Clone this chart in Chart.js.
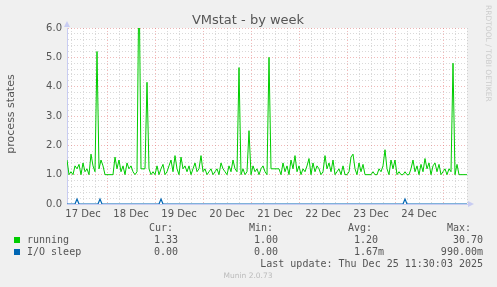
<!DOCTYPE html>
<html>
<head>
<meta charset="utf-8">
<script src="https://cdn.jsdelivr.net/npm/chart.js@4"></script>
<style>
  html, body { margin: 0; padding: 0; background: #f0f0f0; }
  canvas { display: block; }
</style>
</head>
<body>
<canvas id="vmstat" width="497" height="287"></canvas>
<script>
// hour 0 = Tue 17 Dec 04:00, one value per hour up to 25 Dec 12:00
const running = [
  1.5, 1.0, 1.1, 1.0, 1.3, 1.2, 1.35, 1.0, 1.4, 1.1,
  1.2, 1.0, 1.7, 1.3, 1.1, 5.2, 1.2, 1.5, 1.3, 1.0,
  1.0, 1.0, 1.0, 1.0, 1.6, 1.2, 1.5, 1.1, 1.3, 1.0,
  1.4, 1.2, 1.3, 1.1, 1.0, 1.1, 8.0, 1.2, 1.2, 1.2,
  4.15, 1.2, 1.0, 1.1, 1.0, 1.3, 1.0, 1.2, 1.35, 1.0,
  1.1, 1.3, 1.5, 1.1, 1.65, 1.2, 1.0, 1.6, 1.2, 1.3,
  1.1, 1.3, 1.0, 1.2, 1.4, 1.1, 1.2, 1.65, 1.1, 1.2,
  1.0, 1.1, 1.2, 1.0, 1.1, 1.2, 1.0, 1.4, 1.2, 1.1,
  1.0, 1.3, 1.1, 1.5, 1.2, 1.1, 4.65, 1.0, 1.2, 1.0,
  1.1, 2.5, 1.0, 1.3, 1.1, 1.2, 1.0, 1.2, 1.3, 1.1,
  1.0, 5.0, 1.2, 1.2, 1.2, 1.2, 1.2, 1.0, 1.4, 1.1,
  1.3, 1.0, 1.5, 1.2, 1.65, 1.1, 1.3, 1.0, 1.2, 1.1,
  1.3, 1.55, 1.0, 1.4, 1.1, 1.3, 1.2, 1.0, 1.1, 1.65,
  1.2, 1.4, 1.1, 1.5, 1.0, 1.1, 1.2, 1.0, 1.3, 1.0,
  1.0, 1.1, 1.6, 1.7, 1.2, 1.0, 1.4, 1.1, 1.35, 1.0,
  1.0, 1.0, 1.0, 1.1, 1.0, 1.0, 1.2, 1.1, 1.3, 1.85,
  1.2, 1.0, 1.5, 1.2, 1.5, 1.0, 1.1, 1.0, 1.0, 1.1,
  1.0, 1.0, 1.2, 1.5, 1.1, 1.3, 1.0, 1.35, 1.1, 1.55,
  1.2, 1.4, 1.0, 1.3, 1.4, 1.1, 1.35, 1.0, 1.1, 1.2,
  1.0, 1.2, 1.1, 4.8, 1.0, 1.35, 1.0, 1.0, 1.0, 1.0,
  1.0
];

// [hour, value] pairs, zero everywhere between the blips
const ioSleep = [
  [0, 0], [4, 0], [5, 0.17], [6, 0], [15.5, 0], [16.5, 0.17], [17.5, 0],
  [46, 0], [47, 0.17], [48, 0], [168, 0], [169, 0.17], [170, 0], [200, 0]
];

const dayLabels = ['17 Dec', '18 Dec', '19 Dec', '20 Dec', '21 Dec', '22 Dec', '23 Dec', '24 Dec'];
const yTickLabels = ['0.0', '1.0', '2.0', '3.0', '4.0', '5.0', '6.0'];

const legendRows = [
  { name: 'running', color: '#00cc00', cur: '1.33', min: '1.00', avg: '1.20', max: '30.70' },
  { name: 'I/O sleep', color: '#0066b3', cur: '0.00', min: '0.00', avg: '1.67m', max: '990.00m' }
];

const HOURS = 200;          // span of the graph
const FIRST_MIDNIGHT = 20;  // 18 Dec 00:00
const FIRST_NOON = 8;       // 17 Dec 12:00

const MINOR = 'rgba(160,160,160,0.4)';
const MAJOR = 'rgba(225,100,100,0.45)';
const AXIS = '#c8ccf2';
const TXT = '#555555';

const isMidnight = (v) => v >= FIRST_MIDNIGHT && (v - FIRST_MIDNIGHT) % 24 === 0;
const isWhole = (v) => Math.abs(v - Math.round(v)) < 1e-6;

const decorPlugin = {
  id: 'decorPlugin',
  beforeDraw(chart) {
    const { ctx, chartArea: a } = chart;
    ctx.save();
    ctx.fillStyle = '#ffffff';
    ctx.fillRect(a.left, a.top, a.right - a.left, a.bottom - a.top);
    ctx.restore();
  },
  afterDraw(chart) {
    const { ctx, chartArea: a } = chart;
    ctx.save();

    // axis arrows
    ctx.fillStyle = AXIS;
    ctx.beginPath();
    ctx.moveTo(a.left - 3, a.top - 1);
    ctx.lineTo(a.left + 3, a.top - 1);
    ctx.lineTo(a.left, a.top - 7);
    ctx.closePath();
    ctx.fill();
    ctx.beginPath();
    ctx.moveTo(a.right + 1, a.bottom - 3);
    ctx.lineTo(a.right + 1, a.bottom + 3);
    ctx.lineTo(a.right + 7, a.bottom);
    ctx.closePath();
    ctx.fill();

    // title
    ctx.fillStyle = TXT;
    ctx.font = '13px "DejaVu Sans"';
    ctx.textAlign = 'center';
    ctx.textBaseline = 'alphabetic';
    ctx.fillText('VMstat - by week', 248, 24);

    // vertical axis title
    ctx.save();
    ctx.translate(11, 114);
    ctx.rotate(-Math.PI / 2);
    ctx.font = '11px "DejaVu Sans"';
    ctx.textBaseline = 'middle';
    ctx.fillText('process states', 0, 0);
    ctx.restore();

    // watermark
    ctx.save();
    ctx.translate(488, 5);
    ctx.rotate(Math.PI / 2);
    ctx.fillStyle = '#cccccc';
    ctx.font = '7.5px "DejaVu Sans"';
    ctx.textAlign = 'left';
    ctx.textBaseline = 'middle';
    ctx.fillText('RRDTOOL / TOBI OETIKER', 0, 0);
    ctx.restore();

    // legend
    ctx.font = '10px "DejaVu Sans Mono"';
    ctx.textAlign = 'left';
    ctx.textBaseline = 'middle';
    ctx.fillStyle = TXT;
    ctx.fillText('Cur:', 149, 228);
    ctx.fillText('Min:', 249, 228);
    ctx.fillText('Avg:', 348, 228);
    ctx.fillText('Max:', 447, 228);
    legendRows.forEach((r, i) => {
      const y = 240 + i * 12;
      ctx.fillStyle = r.color;
      ctx.fillRect(14, y - 3, 6, 6);
      ctx.fillStyle = TXT;
      ctx.textAlign = 'left';
      ctx.fillText(r.name, 27, y);
      ctx.textAlign = 'right';
      ctx.fillText(r.cur, 178, y);
      ctx.fillText(r.min, 278, y);
      ctx.textAlign = 'left';
      ctx.fillText(r.avg, 354, y);
      ctx.textAlign = 'right';
      ctx.fillText(r.max, 483, y);
    });
    ctx.textAlign = 'right';
    ctx.fillText('Last update: Thu Dec 25 11:30:03 2025', 483, 264);

    ctx.fillStyle = '#bbbbbb';
    ctx.font = '7.5px "DejaVu Sans"';
    ctx.textAlign = 'center';
    ctx.fillText('Munin 2.0.73', 248, 276);
    ctx.restore();
  }
};

const chart = new Chart(document.getElementById('vmstat'), {
  type: 'line',
  data: {
    datasets: [
      {
        label: 'I/O sleep',
        data: ioSleep.map(([x, y]) => ({ x, y })),
        borderColor: '#0066b3',
        borderWidth: 1.2,
        pointRadius: 0,
        tension: 0
      },
      {
        label: 'running',
        data: running.map((y, x) => ({ x, y })),
        borderColor: '#00cc00',
        borderWidth: 1,
        pointRadius: 0,
        tension: 0
      }
    ]
  },
  options: {
    responsive: false,
    animation: false,
    devicePixelRatio: 1,
    layout: { padding: { top: 28, left: 0, right: 30, bottom: 0 } },
    plugins: { legend: { display: false }, tooltip: { enabled: false } },
    scales: {
      x: {
        type: 'linear',
        min: 0,
        max: HOURS,
        afterBuildTicks(scale) {
          const t = [];
          for (let h = 2; h <= HOURS; h += 6) t.push({ value: h });
          scale.ticks = t;
        },
        afterFit(scale) { scale.height = 83; },
        ticks: {
          autoSkip: false,
          maxRotation: 0,
          padding: 4,
          color: TXT,
          font: { family: 'DejaVu Sans', size: 10 },
          callback: (v) => ((v - FIRST_NOON) % 24 === 0 ? dayLabels[(v - FIRST_NOON) / 24] || '' : '')
        },
        grid: {
          drawTicks: false,
          color: (c) => (c.tick && isMidnight(c.tick.value) ? MAJOR : MINOR),
          lineWidth: 1
        },
        border: { display: true, color: AXIS, width: 1, dash: [1, 2] }
      },
      y: {
        type: 'linear',
        min: 0,
        max: 6,
        afterBuildTicks(scale) {
          const t = [];
          for (let i = 0; i <= 30; i++) t.push({ value: i / 5 });
          scale.ticks = t;
        },
        afterFit(scale) { scale.width = 67; },
        ticks: {
          autoSkip: false,
          padding: 5,
          color: TXT,
          font: { family: 'DejaVu Sans', size: 10 },
          callback: (v) => (isWhole(v) ? yTickLabels[Math.round(v)] : '')
        },
        grid: {
          drawTicks: false,
          color: (c) => (c.tick && isWhole(c.tick.value) ? MAJOR : MINOR),
          lineWidth: 1
        },
        border: { display: true, color: AXIS, width: 1, dash: [1, 2] }
      }
    }
  },
  plugins: [decorPlugin]
});
</script>
</body>
</html>
